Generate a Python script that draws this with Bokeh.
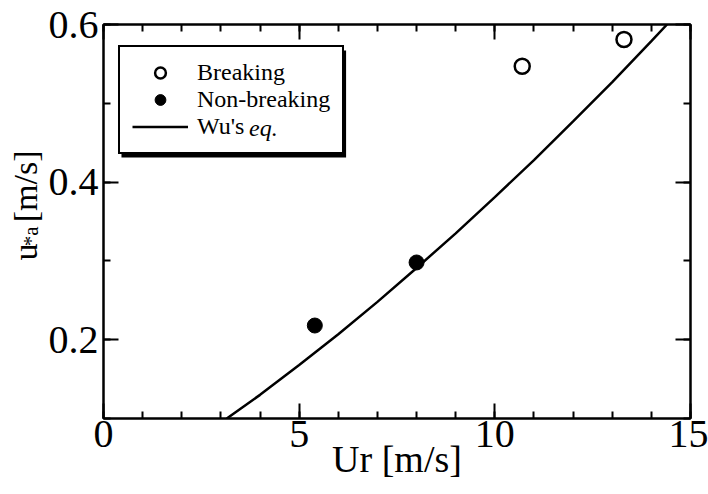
import math
from bokeh.plotting import figure
from bokeh.layouts import row
from bokeh.models import (LinearAxis, Range1d, FixedTicker, Legend, LegendItem,
                          CustomJSTickFormatter, BoxAnnotation)
from bokeh.core.properties import value
from bokeh.embed import file_html
from bokeh.resources import INLINE

# ---- data ----
ur_breaking = [10.7, 13.3]
u_breaking = [0.547, 0.581]

ur_nonbreaking = [5.4, 8.0]
u_nonbreaking = [0.218, 0.298]

ur_wu = [3.15, 4.0, 5.0, 6.0, 7.0, 8.0, 9.0, 10.0, 11.0, 12.0, 13.0, 14.0, 14.4]
u_wu = [0.100, 0.130, 0.168, 0.207, 0.248, 0.291, 0.335, 0.381, 0.428, 0.477, 0.527, 0.579, 0.600]

x_major = [0, 5, 10, 15]
x_minor = list(range(0, 16))
y_major = [0.2, 0.4, 0.6]
y_minor = [0.1, 0.2, 0.3, 0.4, 0.5, 0.6]

FONT = "Liberation Serif"
TICK_FS = "40px"
TITLE_FS = "38px"
LEG_FS = "24px"

W, H = 708, 494
STRIP = 45                      # width of the strip holding the y title
FL, FR, FT, FB = 102, 690, 24, 418
X0, X1, Y0, Y1 = 0, 15, 0.1, 0.6


def sx(px):
    return X0 + (px - FL) / (FR - FL) * (X1 - X0)


def sy(py):
    return Y1 - (py - FT) / (FB - FT) * (Y1 - Y0)


p = figure(width=W - STRIP, height=H,
           x_range=Range1d(X0, X1), y_range=Range1d(Y0, Y1),
           output_backend="svg", toolbar_location=None,
           x_axis_location=None, y_axis_location=None,
           min_border_left=FL - STRIP, min_border_right=W - FR,
           min_border_top=FT, min_border_bottom=H - FB)
p.xgrid.visible = False
p.ygrid.visible = False
p.outline_line_color = "black"
p.outline_line_width = 2
p.background_fill_color = "white"
p.border_fill_color = "white"


def make_axis(ticks, minor, labels=True):
    ax = LinearAxis(ticker=FixedTicker(ticks=ticks, minor_ticks=minor),
                    major_tick_in=15, major_tick_out=0,
                    minor_tick_in=7, minor_tick_out=0,
                    axis_line_width=2, axis_line_color="black",
                    major_tick_line_width=2, minor_tick_line_width=2,
                    major_tick_line_color="black", minor_tick_line_color="black",
                    major_label_text_font=FONT,
                    major_label_text_font_size=TICK_FS,
                    major_label_text_color="black")
    if not labels:
        ax.formatter = CustomJSTickFormatter(code="return ''")
        ax.major_label_standoff = 0
    return ax


xb = make_axis(x_major, x_minor)
xb.major_label_standoff = 2
xb.axis_label = "Ur [m/s]"
xb.axis_label_text_font = FONT
xb.axis_label_text_font_size = TITLE_FS
xb.axis_label_text_font_style = "normal"
xb.axis_label_text_color = "black"
xb.axis_label_standoff = -12
yl = make_axis(y_major, y_minor)
yl.major_label_standoff = 5
xt = make_axis(x_major, x_minor, labels=False)
yr = make_axis(y_major, y_minor, labels=False)
p.add_layout(xb, "below")
p.add_layout(yl, "left")
p.add_layout(xt, "above")
p.add_layout(yr, "right")

# ---- glyphs ----
r_wu = p.line(ur_wu, u_wu, line_color="black", line_width=2.5)
r_br = p.scatter(ur_breaking, u_breaking, marker="circle", size=15,
                 fill_color="white", line_color="black", line_width=2.5)
r_nb = p.scatter(ur_nonbreaking, u_nonbreaking, marker="circle", size=15,
                 fill_color="black", line_color="black", line_width=1)
r_none = p.scatter(x=[], y=[], size=1, fill_alpha=0, line_alpha=0)

# drop shadow of the legend box
p.add_layout(BoxAnnotation(left=sx(120), right=sx(345), top=sy(50), bottom=sy(157),
                           fill_color="black", fill_alpha=1, line_color=None))

legend = Legend(items=[LegendItem(label="Breaking", renderers=[r_br]),
                       LegendItem(label="Non-breaking", renderers=[r_nb]),
                       LegendItem(label="Wu's", renderers=[r_wu])],
                location=(15, 264),
                label_text_font=FONT, label_text_font_size=LEG_FS,
                label_text_color="black",
                glyph_width=56, glyph_height=27, label_height=27,
                label_standoff=9, spacing=0, padding=12, margin=0,
                border_line_color="black", border_line_width=2,
                border_line_alpha=1.0,
                background_fill_color="white", background_fill_alpha=1)
p.add_layout(legend)

# italic "eq." following "Wu's"
legend_eq = Legend(items=[LegendItem(label="eq.", renderers=[r_none])],
                   location=(146, 276),
                   label_text_font=FONT, label_text_font_size=LEG_FS,
                   label_text_font_style="italic", label_text_color="black",
                   glyph_width=0, glyph_height=27, label_height=27,
                   label_standoff=0, spacing=0, padding=0, margin=0,
                   border_line_color=None, background_fill_alpha=0)
p.add_layout(legend_eq)

# ---- strip on the left carrying the y title u*a [m/s] ----
q = figure(width=STRIP, height=H, x_range=Range1d(0, STRIP), y_range=Range1d(0, H),
           output_backend="svg", toolbar_location=None,
           x_axis_location=None, y_axis_location=None,
           min_border=0, min_border_left=0, min_border_right=0,
           min_border_top=0, min_border_bottom=0)
q.xgrid.visible = False
q.ygrid.visible = False
q.outline_line_color = None
q.background_fill_color = "white"
q.border_fill_color = "white"

ang = math.pi / 2
title_parts = ["u", "*a", "[m/s]"]
title_px = [25, 30, 25]          # baseline position (pixels from left)
title_py = [296, 278, 248]       # start of each piece (pixels from top)
title_fs = ["34px", "21px", "34px"]
for t, bx, by, fs in zip(title_parts, title_px, title_py, title_fs):
    q.text(x=[bx], y=[H - by], text=[t], angle=ang,
           text_font=value(FONT), text_font_size=fs,
           text_baseline="alphabetic", text_align="left", text_color="black")

lay = row(q, p, spacing=0)
open("out.html", "w").write(file_html(lay, INLINE))
